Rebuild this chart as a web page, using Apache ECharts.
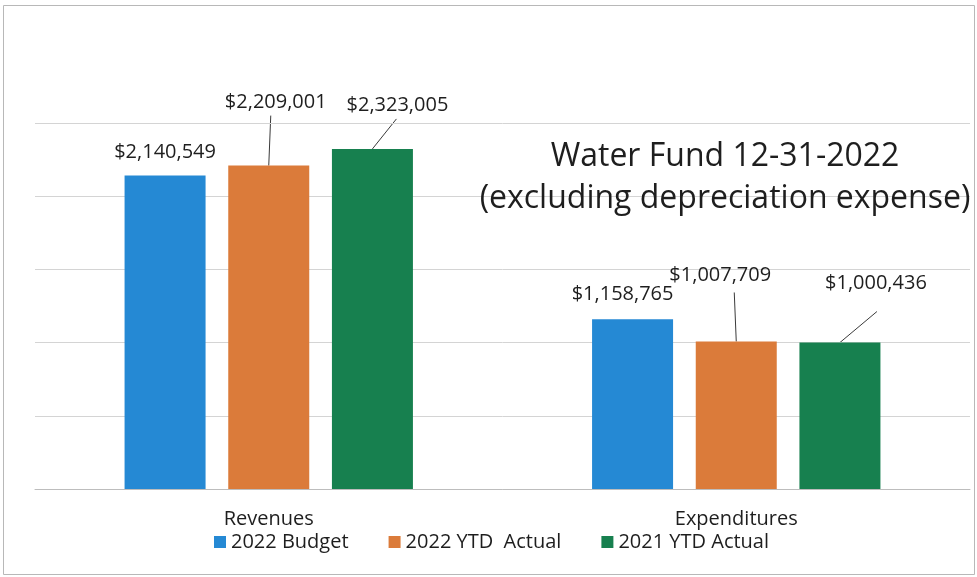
<!DOCTYPE html>
<html>
<head>
<meta charset="utf-8">
<title>Water Fund 12-31-2022</title>
<script src="https://cdn.jsdelivr.net/npm/echarts@6/dist/echarts.min.js"></script>
<style>
  html, body { margin: 0; padding: 0; background: #ffffff; }
  #chart { width: 977px; height: 577px; }
</style>
</head>
<body>
<div id="chart"></div>
<script>
// Fund summary figures
const categories = ['Revenues', 'Expenditures'];
const seriesNames = ['2022 Budget', '2022 YTD  Actual', '2021 YTD Actual'];
const budget2022 = [2140549, 1158765];
const ytdActual2022 = [2209001, 1007709];
const ytdActual2021 = [2323005, 1000436];

const colors = ['#2589d4', '#db7b3a', '#17804f'];
const FONT = '"Open Sans", "Noto Sans", sans-serif';

// Offsets (px) that pull each data label away from its bar
const labelShift = [
  [[0, -8], [-10, -10]],
  [[7, -48], [-16, -51]],
  [[25, -29], [36, -44]]
];
// Leader line end point, relative to the top centre of the bar (null = no leader)
const leaderEnd = [
  [null, null],
  [[2, -50], [-2, -49]],
  [[24, -30], [37, -31]]
];

function money(v) {
  return '$' + v.toLocaleString('en-US');
}

function makeSeries(idx, values) {
  return {
    name: seriesNames[idx],
    type: 'bar',
    barWidth: 81,
    barGap: '28%',
    itemStyle: { color: colors[idx] },
    label: {
      show: true,
      position: 'top',
      distance: 5,
      color: '#1e1e1e',
      fontFamily: FONT,
      fontSize: 20,
      formatter: p => money(p.value)
    },
    labelLayout: p => ({ dx: labelShift[idx][p.dataIndex][0], dy: labelShift[idx][p.dataIndex][1] }),
    data: values
  };
}

const chart = echarts.init(document.getElementById('chart'), null, { renderer: 'canvas' });

const frame = {
  id: 'frame',
  type: 'rect',
  silent: true,
  shape: { x: 3.5, y: 5.5, width: 971, height: 569 },
  style: { fill: 'none', stroke: '#b8b8b8', lineWidth: 1 }
};

chart.setOption({
  animation: false,
  backgroundColor: '#ffffff',
  textStyle: { fontFamily: FONT },
  title: {
    text: 'Water Fund 12-31-2022\n(excluding depreciation expense)',
    left: 720,
    top: 131,
    textAlign: 'center',
    textStyle: {
      fontFamily: FONT,
      fontSize: 32,
      lineHeight: 42,
      fontWeight: 'normal',
      color: '#1e1e1e'
    }
  },
  legend: {
    left: 209,
    top: 527,
    itemWidth: 12,
    itemHeight: 12,
    itemGap: 40,
    icon: 'rect',
    textStyle: { fontFamily: FONT, fontSize: 20, color: '#1e1e1e' },
    data: seriesNames
  },
  grid: {
    left: 35,
    right: 7,
    top: 123,
    bottom: 88,
    containLabel: false
  },
  xAxis: {
    type: 'category',
    data: categories,
    axisTick: { show: false },
    axisLine: { show: true, lineStyle: { color: '#bdbdbd', width: 1 } },
    axisLabel: {
      margin: 20,
      fontFamily: FONT,
      fontSize: 20,
      color: '#1e1e1e'
    }
  },
  yAxis: {
    type: 'value',
    min: 0,
    max: 2500000,
    interval: 500000,
    axisLabel: { show: false },
    axisLine: { show: false },
    axisTick: { show: false },
    splitLine: { show: true, lineStyle: { color: '#d4d4d4', width: 1 } }
  },
  graphic: [frame],
  series: [
    makeSeries(0, budget2022),
    makeSeries(1, ytdActual2022),
    makeSeries(2, ytdActual2021)
  ]
});

// Leader lines from the bar tops (as laid out by the chart) to the moved labels
const leaders = [];
const model = chart.getModel();
leaderEnd.forEach((row, s) => {
  const data = model.getSeriesByIndex(s).getData();
  row.forEach((end, i) => {
    if (!end) return;
    const lay = data.getItemLayout(i);
    const cx = lay.x + lay.width / 2;
    const top = Math.min(lay.y, lay.y + lay.height);
    leaders.push({
      id: 'leader-' + s + '-' + i,
      type: 'line',
      silent: true,
      shape: { x1: cx, y1: top, x2: cx + end[0], y2: top + end[1] },
      style: { stroke: '#3a3a3a', lineWidth: 1 }
    });
  });
});
chart.setOption({ graphic: [frame].concat(leaders) });
</script>
</body>
</html>
